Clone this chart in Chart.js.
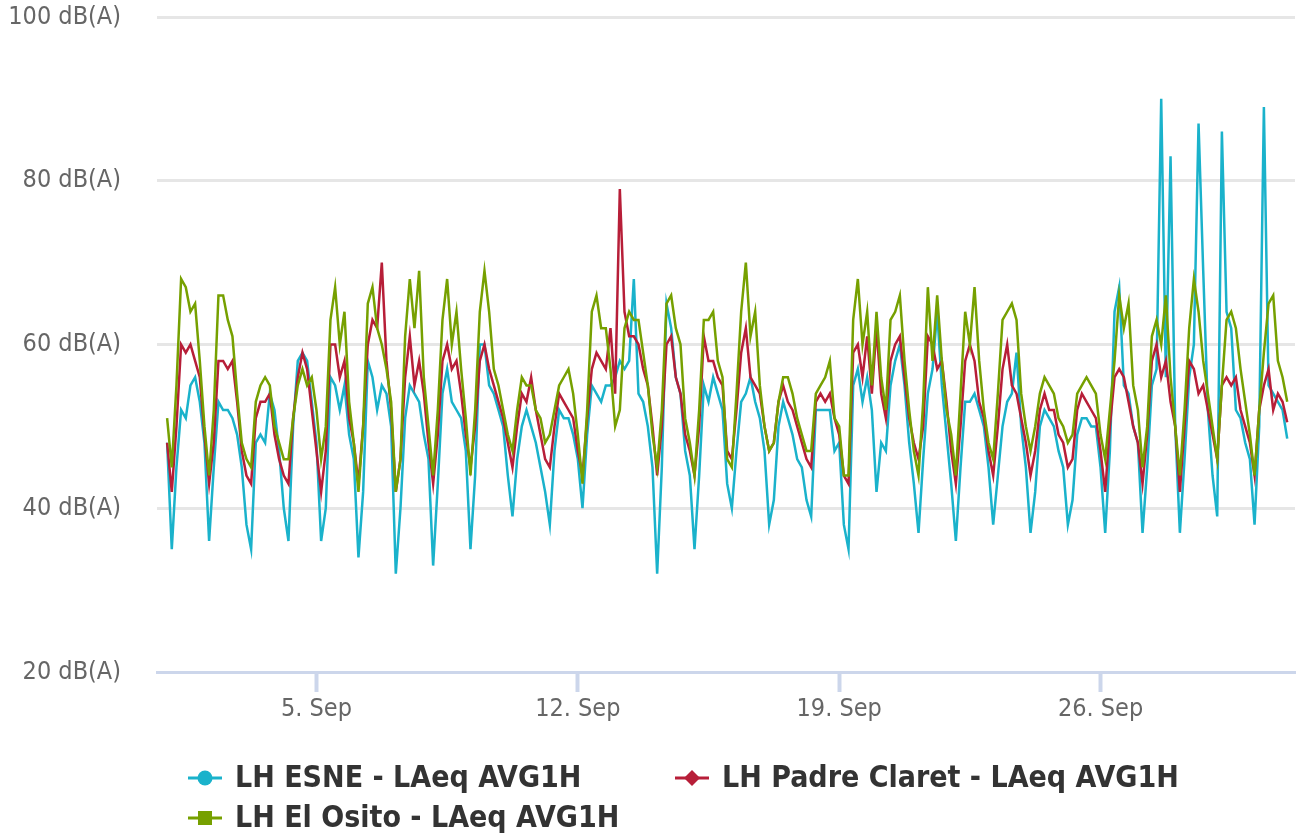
<!DOCTYPE html>
<html>
<head>
<meta charset="utf-8">
<title>LAeq AVG1H</title>
<script src="https://cdn.jsdelivr.net/npm/chart.js@4.4.1/dist/chart.umd.min.js"></script>
<style>
  html, body { margin: 0; padding: 0; background: #fff; }
  #wrap { width: 1297px; height: 834px; }
</style>
</head>
<body>
<div id="wrap"><canvas id="noiseChart" width="1297" height="834"></canvas></div>
<script>
// Values every 3 hours, starting 1 Sep 00:00
const STEP_HOURS = 3;
const tickHours = [96, 264, 432, 600];
const tickLabels = ["5. Sep", "12. Sep", "19. Sep", "26. Sep"];
const seriesNames = ["LH ESNE - LAeq AVG1H", "LH Padre Claret - LAeq AVG1H", "LH El Osito - LAeq AVG1H"];

const esne = [
  48,35,45,52,51,55,56,53,   48,36,45,53,52,52,51,49,   45,38,35,48,49,48,54,52,
  47,40,36,50,58,59,58,53,   48,36,40,56,55,52,55,49,   46,34,42,58,56,52,55,54,
  50,32,40,51,55,54,53,49,   46,33,43,54,57,53,52,51,   47,35,44,60,60,55,54,52,
  50,44,39,46,50,52,50,48,   45,42,38,47,52,51,51,49,   46,40,49,55,54,53,55,55,
  56,58,57,58,68,54,53,50,   45,32,45,65,62,56,54,47,   44,35,44,55,53,56,54,52,
  43,40,47,53,54,56,53,51,   47,38,41,50,53,51,49,46,   45,41,39,52,52,52,52,47,
  48,38,35,55,57,53,56,52,   42,48,47,55,58,60,55,48,   43,37,46,54,57,64,55,49,
  43,36,45,53,53,54,52,50,   45,38,44,50,53,54,59,50,   45,37,42,50,52,51,50,47,
  45,38,41,49,51,51,50,50,   45,37,47,64,67,55,54,50,   48,37,45,55,57,90,56,83,
  50,37,46,56,60,87,69,52,   44,39,86,64,62,52,51,48,   46,38,50,89,55,54,53,52,
  48.5
];
const padreClaret = [
  48,42,50,60,59,60,58,56,   49,43,48,58,58,57,58,53,   47,44,43,51,53,53,54,49,
  46,44,43,51,56,59,57,52,   47,42,47,60,60,56,58,51,   48,43,50,60,63,62,70,58,
  52,42,46,56,61,55,58,54,   48,43,49,58,60,57,58,54,   49,45,50,58,60,57,55,53,
  51,48,45,50,54,53,56,52,   49,46,45,50,54,53,52,51,   47,44,51,57,59,58,57,62,
  54,79,64,61,61,60,57,55,   50,44,50,60,61,56,54,49,   47,44,50,61,58,58,56,55,
  47,46,52,59,62,56,55,54,   50,47,48,53,55,53,52,50,   48,46,45,53,54,53,54,51,
  49,44,43,59,60,56,61,54,   62,54,51,58,60,61,56,51,   48,46,50,61,60,57,58,53,
  47,43,50,58,60,58,53,51,   47,44,50,57,60,55,54,51,   48,44,47,52,54,52,52,49,
  48,45,46,52,54,53,52,51,   47,42,50,56,57,56,53,50,   48,43,49,58,60,56,58,53,
  50,42,50,58,57,54,55,52,   49,46,55,56,55,56,52,50,   48,44,52,55,57,52,54,53,
  50.5
];
const elOsito = [
  51,45,55,68,67,64,65,58,   50,44,52,66,66,63,61,54,   48,46,45,53,55,56,55,50,
  48,46,46,51,55,57,55,56,   52,46,50,63,67,60,64,53,   48,42,50,65,67,62,60,57,
  53,42,46,61,68,62,69,56,   50,44,52,63,68,60,64,57,   51,44,52,64,69,64,57,55,
  52,49,47,52,56,55,55,52,   51,48,49,52,55,56,57,54,   49,43,52,64,66,62,62,57,
  50,52,62,64,63,63,59,55,   49,45,52,65,66,62,60,51,   48,44,52,63,63,64,58,56,
  46,45,54,64,70,61,64,55,   50,47,48,53,56,56,54,51,   49,47,47,54,55,56,58,51,
  50,44,44,63,68,60,64,55,   64,56,52,63,64,66,58,52,   47,44,53,67,58,66,58,52,
  49,44,54,64,60,67,58,52,   48,46,54,63,64,65,63,54,   50,47,50,54,56,55,54,51,
  50,48,49,54,55,56,55,54,   49,46,52,58,66,62,65,55,   52,45,50,61,63,60,66,56,
  50,44,52,62,68,64,58,54,   50,46,55,63,64,62,57,53,   49,44,52,59,65,66,58,56,
  53
];

const colors = ["#1ab2cb", "#b71e38", "#76a000"];
const markers = ["circle", "diamond", "square"];

function toPoints(values) {
  return values.map((v, i) => ({ x: i * STEP_HOURS, y: v }));
}

// Highcharts-like legend: line with marker, two columns
const bottomLegend = {
  id: "bottomLegend",
  afterDraw(chart) {
    const c = chart.ctx;
    const cols = [188, 675];
    const rows = [778, 818];
    chart.data.datasets.forEach((ds, i) => {
      const x = cols[i % 2];
      const y = rows[Math.floor(i / 2)];
      c.save();
      c.strokeStyle = ds.borderColor;
      c.fillStyle = ds.borderColor;
      c.lineWidth = 3;
      c.beginPath();
      c.moveTo(x, y);
      c.lineTo(x + 34, y);
      c.stroke();
      const mx = x + 17;
      c.beginPath();
      if (ds.marker === "circle") {
        c.arc(mx, y, 7.5, 0, Math.PI * 2);
      } else if (ds.marker === "diamond") {
        c.moveTo(mx, y - 8);
        c.lineTo(mx + 8, y);
        c.lineTo(mx, y + 8);
        c.lineTo(mx - 8, y);
        c.closePath();
      } else {
        c.rect(mx - 7, y - 7, 14, 14);
      }
      c.fill();
      c.fillStyle = "#333333";
      c.font = "bold 30px 'DejaVu Sans Condensed', 'DejaVu Sans', sans-serif";
      c.textBaseline = "middle";
      c.textAlign = "left";
      c.fillText(ds.label, x + 47, y + 1);
      c.restore();
    });
  }
};

const axisFont = { family: "'DejaVu Sans Condensed', 'DejaVu Sans', sans-serif", size: 25 };

new Chart(document.getElementById("noiseChart"), {
  type: "line",
  data: {
    datasets: [esne, padreClaret, elOsito].map((vals, i) => ({
      label: seriesNames[i],
      data: toPoints(vals),
      borderColor: colors[i],
      backgroundColor: colors[i],
      marker: markers[i],
      order: 3 - i
    }))
  },
  options: {
    responsive: false,
    animation: false,
    layout: { padding: { top: 17, right: 2, left: 0, bottom: 100 } },
    elements: {
      point: { radius: 0 },
      line: { borderWidth: 2.5, tension: 0 }
    },
    plugins: {
      legend: { display: false },
      tooltip: { enabled: false }
    },
    scales: {
      x: {
        type: "linear",
        min: -6.5,
        max: 725,
        afterFit: function(scale) {
          scale.height = 62;
          scale.paddingLeft = 0;
          scale.paddingRight = 0;
        },
        afterBuildTicks: function(scale) {
          scale.ticks = tickHours.map(v => ({ value: v }));
        },
        ticks: {
          autoSkip: false,
          maxRotation: 0,
          color: "#666666",
          font: axisFont,
          padding: 2,
          callback: function(value) {
            const k = tickHours.indexOf(value);
            return k >= 0 ? tickLabels[k] : "";
          }
        },
        grid: {
          drawOnChartArea: false,
          drawTicks: true,
          tickLength: 20,
          tickWidth: 4,
          tickColor: "#ccd6eb"
        },
        border: { display: true, color: "#ccd6eb", width: 3 }
      },
      y: {
        min: 20,
        max: 100,
        afterFit: function(scale) {
          scale.width = 157;
          scale.paddingTop = 0;
          scale.paddingBottom = 0;
        },
        ticks: {
          stepSize: 20,
          color: "#666666",
          font: axisFont,
          padding: 36,
          callback: function(value) { return value + " dB(A)"; }
        },
        grid: {
          color: function(ctx) { return ctx.tick && ctx.tick.value === 20 ? "rgba(0,0,0,0)" : "#e6e6e6"; },
          lineWidth: 3,
          drawTicks: false
        },
        border: { display: false }
      }
    }
  },
  plugins: [bottomLegend]
});
</script>
</body>
</html>
